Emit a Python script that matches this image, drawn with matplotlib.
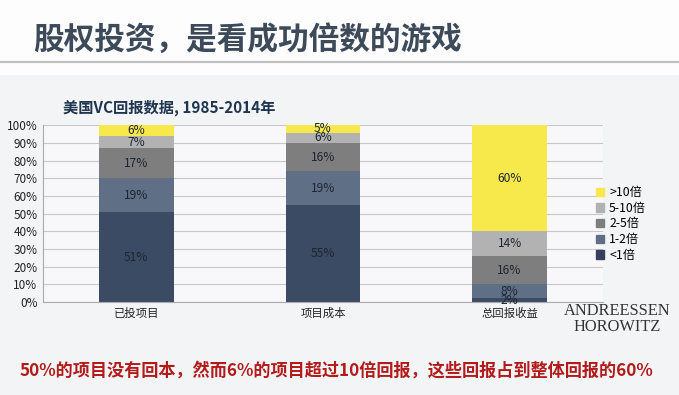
import matplotlib
matplotlib.use("Agg")
import matplotlib.pyplot as plt
import matplotlib.patches as mPatches
import numpy as np

plt.rcParams['font.family'] = ['Noto Sans CJK SC', 'DejaVu Sans']

# data
categories = ['已投项目', '项目成本', '总回报收益']
seriesNames = ['<1倍', '1-2倍', '2-5倍', '5-10倍', '>10倍']
seriesValues = [
    [51, 55, 2],
    [19, 19, 8],
    [17, 16, 16],
    [7, 6, 14],
    [6, 5, 60],
]
seriesColors = ['#3b4b63', '#5f6f86', '#7e7e7e', '#b2b2b2', '#f7e94c']
legendColors = ['#3a3e5e', '#5f6f86', '#7e7e7e', '#b2b2b2', '#f7e94c']

f = plt.figure(figsize=(6.79, 3.95), dpi=100)
f.patch.set_facecolor('#f3f4f6')

# top white title band
f.add_artist(mPatches.Rectangle((0, 0.81), 1, 0.19, transform=f.transFigure,
                                facecolor='#fdfdfd', edgecolor='none', zorder=0))
f.add_artist(plt.Line2D([0, 1], [0.843, 0.843], transform=f.transFigure,
                        color='#bfbfbf', linewidth=1.6))
f.text(0.049, 0.898, '股权投资，是看成功倍数的游戏', fontsize=22.1, fontweight='bold',
       color='#3d4a5a', va='center', ha='left')
f.text(0.093, 0.726, '美国VC回报数据, 1985-2014年', fontsize=11, fontweight='bold',
       color='#1f3550', va='center', ha='left')

ax = f.add_axes([0.0633, 0.2354, 0.8247, 0.4469])
ax.set_facecolor('#f8f8fa')

x = np.arange(len(categories))
bottom = np.zeros(len(categories))
handles = []
for name, vals, col in zip(seriesNames, seriesValues, seriesColors):
    vals = np.array(vals, dtype=float)
    ax.bar(x, vals, 0.4, bottom=bottom, color=col, zorder=2)
    for xi, b, v in zip(x, bottom, vals):
        yc = b + v / 2
        if yc > 100:
            yc = 97.5
        ax.text(xi, yc, '%d%%' % v, ha='center', va='center', fontsize=8.6,
                color='#1e2530', zorder=3)
    bottom += vals

for name, col in zip(seriesNames, legendColors):
    handles.append(mPatches.Patch(color=col, label=name))

ax.set_xlim(-0.5, 2.5)
ax.set_ylim(0, 100)
ax.set_yticks(np.arange(0, 101, 10))
ax.set_yticklabels(['%d%%' % v for v in range(0, 101, 10)], fontsize=8.5, color='#222222')
ax.set_xticks(x)
ax.set_xticklabels(categories, fontsize=8.2, color='#222222')
ax.tick_params(length=0, pad=4)
ax.yaxis.grid(True, color='#c8c8c8', linewidth=0.8, zorder=0)
ax.set_axisbelow(True)
for s in ['top', 'right']:
    ax.spines[s].set_visible(False)
ax.spines['left'].set_color('#aaaaaa')
ax.spines['bottom'].set_color('#aaaaaa')

leg = f.legend(handles=handles[::-1], loc='center left', bbox_to_anchor=(0.862, 0.433),
               frameon=False, fontsize=8.8, handlelength=0.65, handleheight=0.65,
               handletextpad=0.4, labelspacing=0.22)

f.text(0.909, 0.212, 'ANDREESSEN', fontsize=11.8, family='Liberation Serif',
       color='#333333', ha='center', va='center')
f.text(0.909, 0.172, 'HOROWITZ', fontsize=11.8, family='Liberation Serif',
       color='#333333', ha='center', va='center')

f.text(0.029, 0.063, '50%的项目没有回本，然而6%的项目超过10倍回报，这些回报占到整体回报的60%',
       fontsize=12.35, fontweight='bold', color='#b31b1b', ha='left', va='center')

plt.savefig('out.png', dpi=100, facecolor=f.get_facecolor())
